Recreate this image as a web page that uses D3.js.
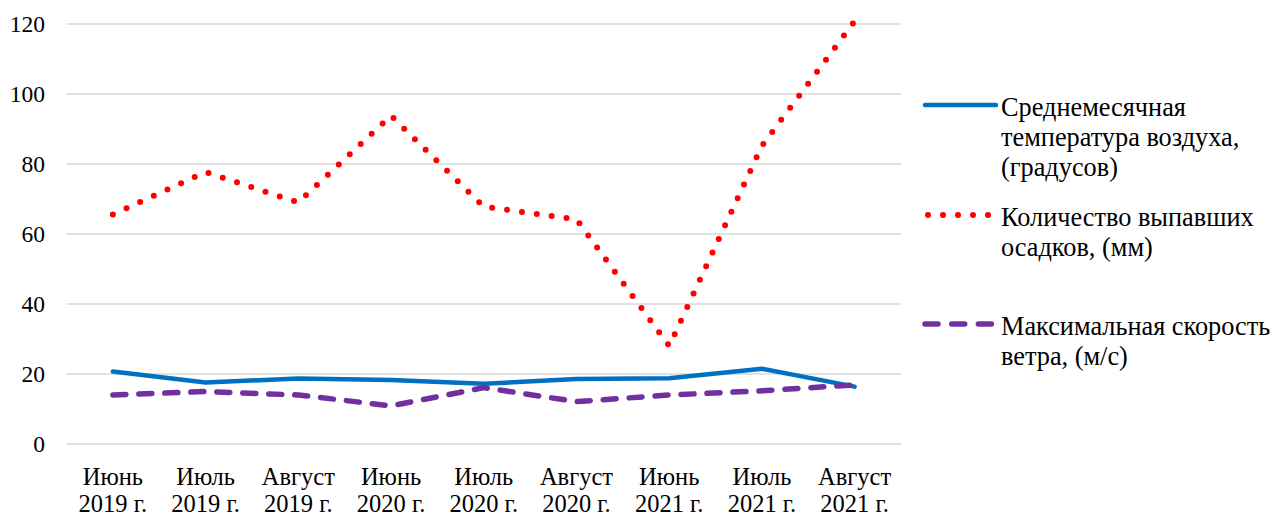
<!DOCTYPE html>
<html>
<head>
<meta charset="utf-8">
<script src="https://cdn.jsdelivr.net/npm/d3@7"></script>
<style>
  body { margin: 0; background: #fff; }
  svg text { font-family: "Liberation Serif", "DejaVu Serif", serif; fill: #000; }
</style>
</head>
<body>
<svg id="chart" width="1278" height="518"></svg>
<script>
// data
var months = ["Июнь", "Июль", "Август", "Июнь", "Июль", "Август", "Июнь", "Июль", "Август"];
var years = ["2019 г.", "2019 г.", "2019 г.", "2020 г.", "2020 г.", "2020 г.", "2021 г.", "2021 г.", "2021 г."];
var temperature = [20.7, 17.6, 18.7, 18.3, 17.2, 18.6, 18.8, 21.5, 16.4];
var precipitation = [65.6, 77.7, 69, 93.8, 67.8, 64.2, 28, 85.2, 120.8];
var wind = [14, 15, 14, 10.9, 16.1, 12.1, 14, 15.2, 16.9];
var yTicks = [0, 20, 40, 60, 80, 100, 120];

var seriesNames = [
    ["Среднемесячная", "температура воздуха,", "(градусов)"],
    ["Количество выпавших", "осадков, (мм)"],
    ["Максимальная скорость", "ветра, (м/с)"]
];

var margin = { top: 24, right: 377, bottom: 74, left: 66.5 },
    width = 1278 - margin.left - margin.right,
    height = 518 - margin.top - margin.bottom;

var svg = d3.select("#chart");
var g = svg.append("g").attr("transform", "translate(" + margin.left + "," + margin.top + ")");

var idx = d3.range(months.length);
var x = d3.scaleBand().domain(idx).range([0, width]);
var y = d3.scaleLinear().domain([0, 120]).range([height, 0]);

// gridlines
g.selectAll(".grid")
    .data(yTicks)
    .enter()
    .append("line")
    .attr("x1", 0)
    .attr("x2", width)
    .attr("y1", function(d) { return y(d); })
    .attr("y2", function(d) { return y(d); })
    .attr("stroke", "#d9d9d9")
    .attr("stroke-width", 1.3);

// y axis labels
var yAxis = d3.axisLeft(y).tickValues(yTicks).tickSize(0).tickPadding(21.5);
g.append("g").call(yAxis).call(function(a) {
    a.attr("font-family", null);
    a.select(".domain").remove();
    a.selectAll("text").attr("font-size", 23.5);
});

// x axis labels (two lines)
var xl = g.selectAll(".xl")
    .data(idx)
    .enter()
    .append("text")
    .attr("text-anchor", "middle")
    .attr("font-size", 24.5)
    .attr("transform", function(d) { return "translate(" + (x(d) + x.bandwidth() / 2) + "," + (height + 41) + ")"; });
xl.append("tspan").attr("x", 0).attr("y", 0).text(function(d) { return months[d]; });
xl.append("tspan").attr("x", 0).attr("y", 27).text(function(d) { return years[d]; });

var line = d3.line()
    .x(function(d, i) { return x(i) + x.bandwidth() / 2; })
    .y(function(d) { return y(d); });

var styles = [
    { data: temperature, color: "#0070c0", width: 4.5, dash: null, legendDash: null, x1: 925 },
    { data: precipitation, color: "#ff0000", width: 6, dash: "0 15", legendDash: "0 15", x1: 928 },
    { data: wind, color: "#7030a0", width: 5.5, dash: "13 13", legendDash: "13 13.7", x1: 925 }
];

styles.forEach(function(s) {
    g.append("path")
        .datum(s.data)
        .attr("fill", "none")
        .attr("stroke", s.color)
        .attr("stroke-width", s.width)
        .attr("stroke-linecap", "round")
        .attr("stroke-linejoin", "round")
        .attr("stroke-dasharray", s.dash)
        .attr("d", line);
});

// legend
var legendY = [105, 215, 324];
var legend = svg.append("g");
styles.forEach(function(s, i) {
    var lg = legend.append("g").attr("transform", "translate(0," + legendY[i] + ")");
    lg.append("line")
        .attr("x1", s.x1)
        .attr("x2", 996)
        .attr("y1", 0)
        .attr("y2", 0)
        .attr("stroke", s.color)
        .attr("stroke-width", s.width)
        .attr("stroke-linecap", "round")
        .attr("stroke-dasharray", s.legendDash);
    var t = lg.append("text").attr("font-size", 26.3);
    seriesNames[i].forEach(function(n, j) {
        t.append("tspan").attr("x", 1001).attr("y", 11 + j * 30).text(n);
    });
});
</script>
</body>
</html>
